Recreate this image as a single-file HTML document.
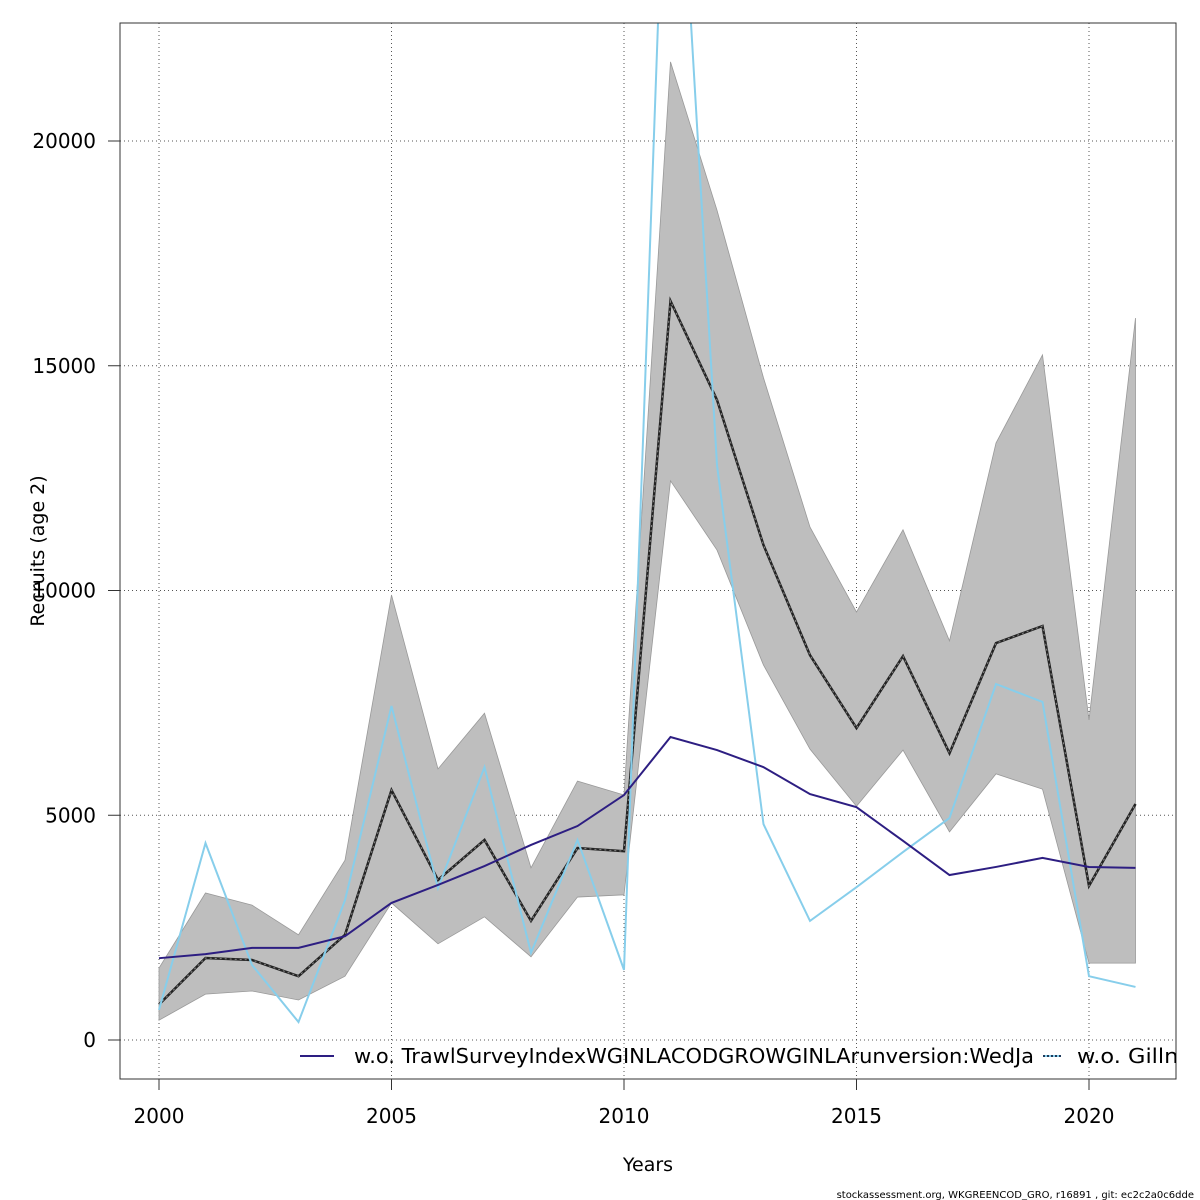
<!DOCTYPE html>
<html><head><meta charset="utf-8"><style>
body{margin:0;background:#fff;}
svg{display:block;font-family:"DejaVu Sans","Liberation Sans",sans-serif;}
</style></head><body>
<svg id="chart" width="1200" height="1200" viewBox="0 0 1200 1200">
<defs><clipPath id="pc"><rect x="120" y="23" width="1056" height="1056"/></clipPath></defs>
<g id="grid"></g>
<g id="marks" clip-path="url(#pc)"></g>
<rect x="120" y="23" width="1056" height="1056" fill="none" stroke="#333" stroke-width="1"/>
<g id="axes"></g>
<text x="648" y="1171" font-size="19" text-anchor="middle">Years</text>
<text transform="translate(44,551) rotate(-90)" font-size="19" text-anchor="middle">Recruits (age 2)</text>
<g clip-path="url(#pc)">
<line x1="300" y1="1056" x2="334" y2="1056" stroke="#2d1e82" stroke-width="2"/>
<text x="354" y="1063" font-size="20" textLength="680" lengthAdjust="spacingAndGlyphs">w.o. TrawlSurveyIndexWGINLACODGROWGINLArunversion:WedJa</text>
<line x1="1043" y1="1056" x2="1061" y2="1056" stroke="#87ceeb" stroke-width="2"/>
<line x1="1043" y1="1056" x2="1061" y2="1056" stroke="#1f3a5a" stroke-width="2" stroke-dasharray="2,2"/>
<text x="1077" y="1063" font-size="20" textLength="124" lengthAdjust="spacingAndGlyphs">w.o. Gillnet</text>
</g>
<text x="1194" y="1198" font-size="10" text-anchor="end">stockassessment.org, WKGREENCOD_GRO, r16891 , git: ec2c2a0c6dde</text>
</svg>
<script>
const years=[2000,2001,2002,2003,2004,2005,2006,2007,2008,2009,2010,2011,2012,2013,2014,2015,2016,2017,2018,2019,2020,2021];
const estimate=[790,1825,1780,1420,2340,5560,3560,4450,2650,4270,4200,16440,14240,11010,8560,6940,8540,6380,8830,9210,3430,5250];
const upper=[1600,3270,3000,2340,4000,9900,6030,7270,3830,5760,5450,21760,18460,14730,11410,9520,11350,8880,13280,15240,7120,16060];
const lower=[440,1020,1090,890,1420,3050,2140,2740,1850,3180,3230,12440,10900,8340,6470,5200,6450,4630,5920,5580,1710,1710];
const trawl=[1820,1910,2050,2050,2310,3050,3450,3870,4340,4760,5450,6740,6450,6070,5470,5180,4430,3670,3850,4050,3850,3830];
const gillnet=[670,4380,1670,400,3110,7430,3380,6070,1940,4450,1560,30370,12790,4800,2650,3400,4180,4940,7920,7520,1420,1180];
const xTicks=[2000,2005,2010,2015,2020];
const yTicks=[0,5000,10000,15000,20000];
const NS='http://www.w3.org/2000/svg';
const X=v=>159+(v-2000)*46.5;
const Y=v=>1040-v*0.04495;
function mk(tag,attrs,parent){const e=document.createElementNS(NS,tag);for(const k in attrs)e.setAttribute(k,attrs[k]);parent.appendChild(e);return e;}
const grid=document.getElementById('grid'),axes=document.getElementById('axes'),marks=document.getElementById('marks');
xTicks.forEach(t=>{
 const l=mk('line',{x1:X(t),x2:X(t),y1:23,y2:1079,stroke:'#555','stroke-dasharray':'1,3'},grid);
 
 
 const tk=mk('line',{x1:X(t),x2:X(t),y1:1079,y2:1090,stroke:'#333'},axes);
 
 
 const tx=mk('text',{x:X(t),y:1123,'font-size':20,'text-anchor':'middle'},axes);tx.textContent=t;
 
 
});
yTicks.forEach(t=>{
 const l=mk('line',{x1:120,x2:1176,y1:Y(t),y2:Y(t),stroke:'#555','stroke-dasharray':'1,3'},grid);
 
 
 const tk=mk('line',{x1:108,x2:120,y1:Y(t),y2:Y(t),stroke:'#333'},axes);
 
 
 const tx=mk('text',{x:96,y:Y(t)+7,'font-size':20,'text-anchor':'end'},axes);tx.textContent=t;
 
 
});
let band=years.map((y,i)=>X(y)+','+Y(upper[i])).join(' ')+' '+years.map((y,i)=>X(y)+','+Y(lower[i])).reverse().join(' ');
const b=mk('polygon',{points:band,fill:'#bebebe',stroke:'#999','stroke-width':0.8},marks);


const pts=a=>years.map((y,i)=>X(y)+','+Y(a[i])).join(' ');
const e1=mk('polyline',{points:pts(estimate),fill:'none',stroke:'#222','stroke-width':2.5},marks);


const e2=mk('polyline',{points:pts(estimate),fill:'none',stroke:'#888','stroke-width':1,'stroke-dasharray':'2,3'},marks);


const g=mk('polyline',{points:pts(gillnet),fill:'none',stroke:'#87ceeb','stroke-width':2},marks);


const t=mk('polyline',{points:pts(trawl),fill:'none',stroke:'#2d1e82','stroke-width':2},marks);


</script>
</body></html>
